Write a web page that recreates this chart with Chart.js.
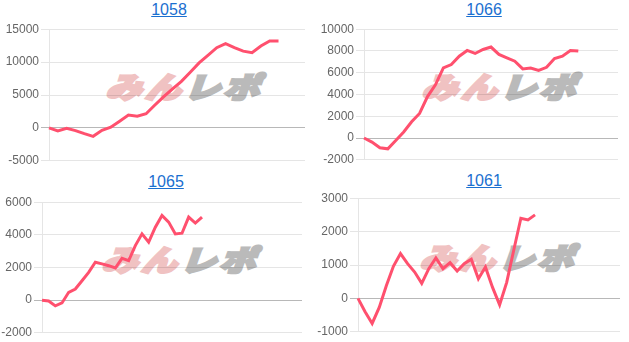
<!DOCTYPE html>
<html>
<head>
<meta charset="utf-8">
<script src="https://cdn.jsdelivr.net/npm/chart.js@4"></script>
<style>
  body { margin: 0; width: 629px; height: 342px; background: #fff; position: relative; overflow: hidden; font-family: "Liberation Sans", Arial, sans-serif; }
  .titulo { position: absolute; width: 80px; text-align: center; font-size: 16px; line-height: 18px; }
  .titulo a { color: #1a6fd0; text-decoration: underline; }
  .marca { position: absolute; font-family: "Noto Sans CJK JP", sans-serif; font-weight: 900;
           font-size: 32px; line-height: 34px; letter-spacing: 3px; white-space: nowrap;
           transform-origin: 0 50%; transform: scale(1.12, 0.9) skewX(-16deg); }
  .marca .a { color: #f0c2c2; -webkit-text-stroke: 3px #f0c2c2; }
  .marca .b { color: #bababa; -webkit-text-stroke: 3px #bababa; }
  canvas { position: absolute; }
</style>
</head>
<body>
<script>
// Datos de cada máquina (差枚)
const maquinas = ["1058", "1066", "1065", "1061"];

const puntos1058 = 30;
const valores1058 = [0, -460, -50, -410, -870, -1280, -360, 100, 1020, 1950, 1790, 2150, 3480, 4760, 5940,
  7070, 8450, 9880, 11010, 12190, 12800, 12190, 11670, 11420, 12440, 13210, 13210];
const ticks1058 = [-5000, 0, 5000, 10000, 15000];

const puntos1066 = 33;
const valores1066 = [0, -370, -900, -990, -220, 560, 1490, 2260, 3810, 4890, 6440, 6750, 7520, 8050, 7770,
  8140, 8360, 7680, 7370, 7060, 6350, 6440, 6220, 6500, 7310, 7520, 8050, 7990];
const ticks1066 = [-2000, 0, 2000, 4000, 6000, 8000, 10000];

const puntos1065 = 40;
const valores1065 = [0, -50, -350, -170, 480, 680, 1190, 1700, 2320, 2220, 2110, 1970, 2560, 2420, 3340,
  4060, 3550, 4470, 5190, 4780, 4060, 4100, 5090, 4720, 5090];
const ticks1065 = [-2000, 0, 2000, 4000, 6000];

const puntos1061 = 38;
const valores1061 = [0, -400, -750, -270, 380, 960, 1340, 1040, 790, 450, 890, 1210, 890, 1070, 820,
  1040, 1170, 590, 940, 330, -190, 480, 1450, 2400, 2350, 2500];
const ticks1061 = [-1000, 0, 1000, 2000, 3000];

// Posiciones de cada gráfico en la página
const cajas = [
  { x: 0,   y: 20,  w: 307, h: 150, eje: 49, titulo: [129, 1],   marca: [110, 68] },
  { x: 315, y: 20,  w: 305, h: 149, eje: 49, titulo: [444, 1],   marca: [426, 68] },
  { x: 0,   y: 193, w: 304, h: 149, eje: 42, titulo: [126, 173], marca: [106, 241] },
  { x: 315, y: 189, w: 307, h: 152, eje: 43, titulo: [444, 172], marca: [424, 239] }
];

const series = [
  { n: puntos1058, datos: valores1058, ticks: ticks1058 },
  { n: puntos1066, datos: valores1066, ticks: ticks1066 },
  { n: puntos1065, datos: valores1065, ticks: ticks1065 },
  { n: puntos1061, datos: valores1061, ticks: ticks1061 }
];

function etiquetas(n) {
  const out = [];
  for (let i = 1; i <= n; i++) out.push(String(i));
  return out;
}

function crearGrafico(i) {
  const caja = cajas[i];
  const s = series[i];

  const titulo = document.createElement("div");
  titulo.className = "titulo";
  titulo.style.left = caja.titulo[0] + "px";
  titulo.style.top = caja.titulo[1] + "px";
  titulo.innerHTML = '<a href="#">' + maquinas[i] + '</a>';
  document.body.appendChild(titulo);

  // marca de agua detrás del gráfico
  const marca = document.createElement("div");
  marca.className = "marca";
  marca.style.left = caja.marca[0] + "px";
  marca.style.top = caja.marca[1] + "px";
  marca.innerHTML = '<span class="a">みん</span><span class="b">レポ</span>';
  document.body.appendChild(marca);

  const canvas = document.createElement("canvas");
  canvas.width = caja.w;
  canvas.height = caja.h;
  canvas.style.left = caja.x + "px";
  canvas.style.top = caja.y + "px";
  document.body.appendChild(canvas);

  new Chart(canvas.getContext("2d"), {
    type: "line",
    data: {
      labels: etiquetas(s.n),
      datasets: [{
        data: s.datos,
        borderColor: "rgb(255, 80, 110)",
        borderWidth: 3,
        pointRadius: 0,
        tension: 0,
        fill: false
      }]
    },
    options: {
      responsive: false,
      animation: false,
      layout: { padding: { left: 0, right: 2, top: 0, bottom: 0 } },
      plugins: { legend: { display: false }, tooltip: { enabled: false } },
      scales: {
        x: { display: false },
        y: {
          min: s.ticks[0],
          max: s.ticks[s.ticks.length - 1],
          afterFit: sc => { sc.width = caja.eje; },
          afterBuildTicks: sc => { sc.ticks = s.ticks.map(v => ({ value: v })); },
          ticks: {
            color: "#666",
            font: { size: 12, family: "'Liberation Sans', Arial" },
            padding: 2,
            callback: v => String(v)
          },
          grid: {
            color: c => (c.tick && c.tick.value === 0) ? "rgba(0,0,0,0.28)" : "rgba(0,0,0,0.1)"
          },
          border: { color: "rgba(0,0,0,0.1)" }
        }
      }
    }
  });
}

window.addEventListener("DOMContentLoaded", () => {
  for (let i = 0; i < 4; i++) crearGrafico(i);
});
</script>
</body>
</html>
